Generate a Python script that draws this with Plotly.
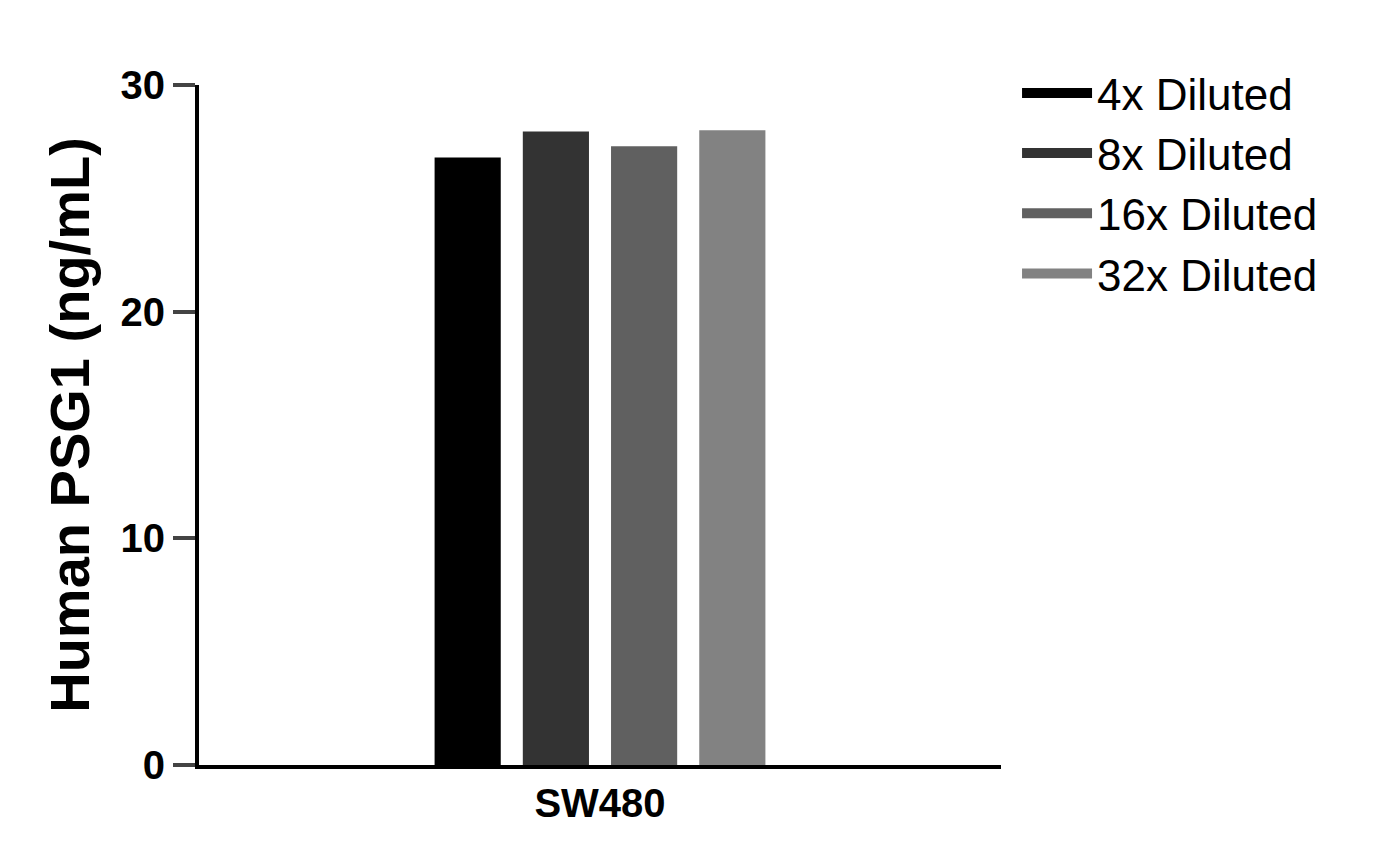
import plotly.graph_objects as go

categories = ["SW480"]
series = ["4x Diluted", "8x Diluted", "16x Diluted", "32x Diluted"]
values = [[26.8], [27.95], [27.3], [28.0]]
colors = ["#000000", "#333333", "#606060", "#828282"]

fig = go.Figure()
for name, v, c in zip(series, values, colors):
    fig.add_trace(go.Bar(x=categories, y=v, name=name, marker_color=c,
                         marker_line_width=0, showlegend=False))
for name, c in zip(series, colors):
    fig.add_trace(go.Scatter(x=[None], y=[None], mode="lines", name=name,
                             line=dict(color=c, width=22)))

fig.update_layout(
    width=1392, height=867, plot_bgcolor="white", paper_bgcolor="white",
    margin=dict(l=191, r=399, t=77, b=110),
    barmode="group", bargap=0.56, bargroupgap=0.25,
    font=dict(family="Liberation Sans, Arial", color="black"),
    legend=dict(x=1.02, y=1.04, xanchor="left", yanchor="top",
                font=dict(size=44), itemwidth=70, tracegroupgap=20),
)
fig.update_yaxes(range=[0, 30], tickvals=[0, 10, 20, 30], showline=True, linewidth=4,
                 linecolor="black", ticks="outside", ticklen=22, tickwidth=4,
                 showgrid=False, zeroline=False,
                 tickfont=dict(size=40, weight="bold"),
                 title=dict(text="<b>Human PSG1 (ng/mL)</b>", font=dict(size=56), standoff=14))
fig.update_xaxes(showline=True, linewidth=4, linecolor="black", ticks="", showgrid=False,
                 tickfont=dict(size=40, weight="bold"))
fig.write_html("out.html")
